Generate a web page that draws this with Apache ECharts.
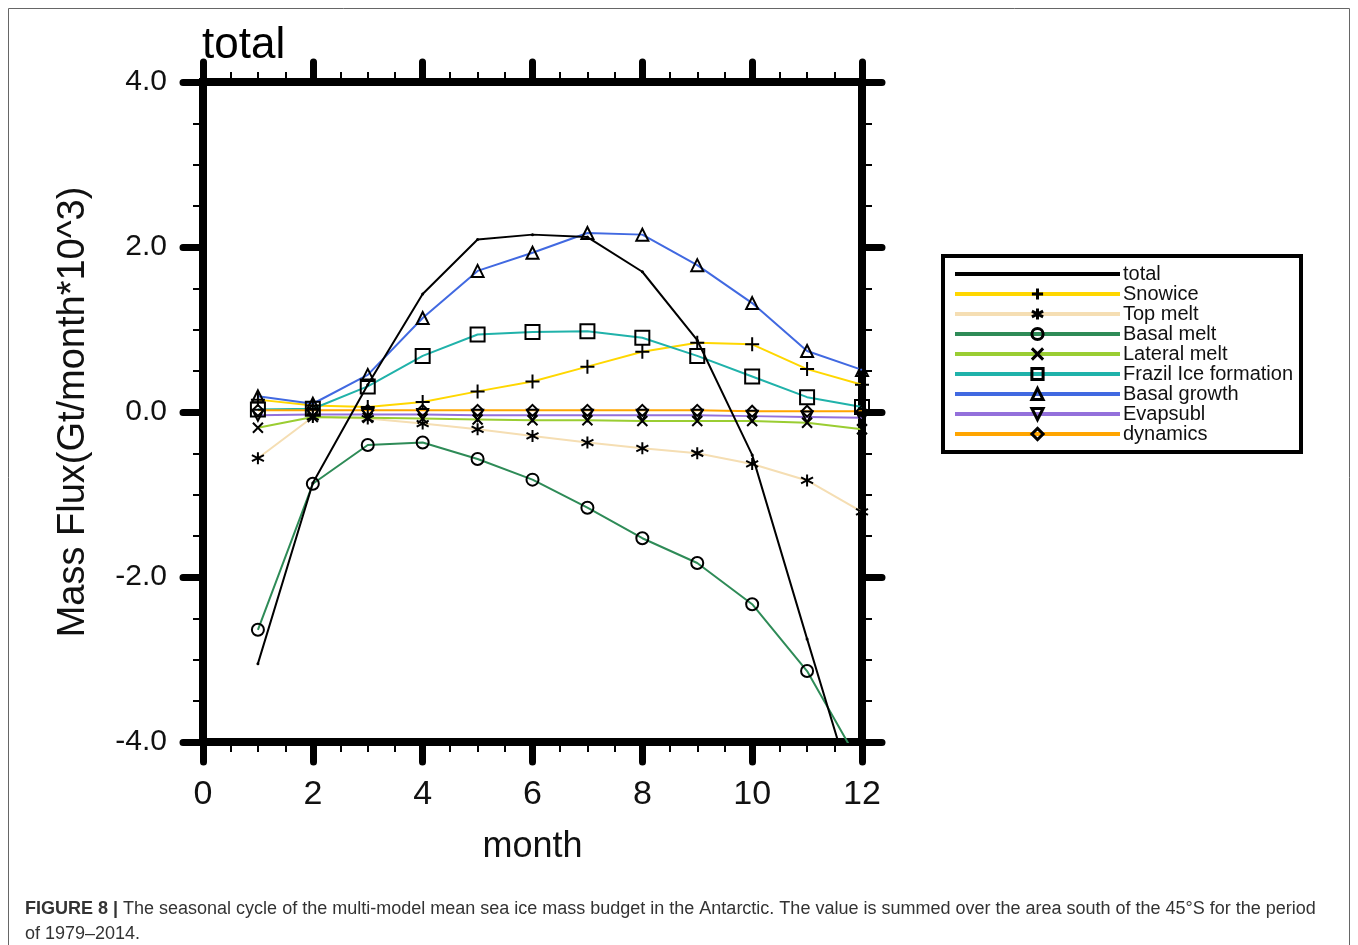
<!DOCTYPE html>
<html>
<head>
<meta charset="utf-8">
<script src="https://cdn.jsdelivr.net/npm/echarts@6/dist/echarts.min.js"></script>
<style>
  html, body { margin: 0; padding: 0; background: #fff; }
  #chart { width: 1358px; height: 945px; }
</style>
</head>
<body>
<div id="chart"></div>
<script>
// Monthly multi-model mean sea ice mass budget terms (Gt/month * 10^3)
const months = [1, 2, 3, 4, 5, 6, 7, 8, 9, 10, 11, 12];
const total       = [-3.05, -0.86, 0.33, 1.43, 2.09, 2.15, 2.12, 1.70, 0.87, -0.52, -2.75, -4.95];
const snowice     = [0.15, 0.08, 0.06, 0.12, 0.25, 0.37, 0.55, 0.73, 0.84, 0.82, 0.52, 0.33];
const topMelt     = [-0.56, -0.06, -0.08, -0.14, -0.21, -0.29, -0.37, -0.44, -0.50, -0.63, -0.83, -1.21];
const basalMelt   = [-2.64, -0.87, -0.40, -0.37, -0.57, -0.82, -1.16, -1.53, -1.83, -2.33, -3.14, -4.31];
const lateralMelt = [-0.19, -0.06, -0.07, -0.08, -0.09, -0.10, -0.10, -0.11, -0.11, -0.11, -0.13, -0.21];
const frazilIce   = [0.03, 0.04, 0.31, 0.68, 0.94, 0.97, 0.98, 0.90, 0.68, 0.43, 0.18, 0.06];
const basalGrowth = [0.19, 0.10, 0.45, 1.14, 1.71, 1.93, 2.17, 2.15, 1.78, 1.32, 0.74, 0.51];
const evapsubl    = [-0.04, -0.03, -0.03, -0.03, -0.04, -0.04, -0.04, -0.04, -0.04, -0.05, -0.06, -0.07];
const dynamics    = [0.02, 0.02, 0.02, 0.02, 0.02, 0.02, 0.02, 0.02, 0.02, 0.01, 0.01, 0.01];

const xTicks = [0, 2, 4, 6, 8, 10, 12];
const yTicks = [-4, -2, 0, 2, 4];

const FONT = '"Liberation Sans", Arial, Helvetica, sans-serif';

// marker shapes
const SYM_PLUS = 'path://M0,5L10,5M5,0L5,10';
const SYM_STAR = 'path://M5,0L5,10M0.67,2.5L9.33,7.5M0.67,7.5L9.33,2.5';
const SYM_X    = 'path://M0,0L10,10M0,10L10,0';
const SYM_DOWN = 'path://M0,0L10,0L5,9Z';

function zip(values) { return months.map((m, i) => [m, values[i]]); }

function seriesDef(name, values, color, symbol, size) {
  return {
    name: name,
    type: 'line',
    data: zip(values),
    symbol: symbol,
    symbolSize: size,
    clip: true,
    showAllSymbol: true,
    lineStyle: { color: color, width: 2 },
    itemStyle: { color: 'transparent', borderColor: '#000', borderWidth: 2 },
    emphasis: { disabled: true },
    z: 3
  };
}

const seriesList = [
  seriesDef('Snowice', snowice, '#FFD700', SYM_PLUS, 14),
  seriesDef('Top melt', topMelt, '#F5DEB3', SYM_STAR, 12),
  seriesDef('Basal melt', basalMelt, '#2E8B57', 'circle', 12),
  seriesDef('Lateral melt', lateralMelt, '#9ACD32', SYM_X, 10),
  seriesDef('Frazil Ice formation', frazilIce, '#20B2AA', 'rect', 14),
  seriesDef('Basal growth', basalGrowth, '#4169E1', 'triangle', 12),
  seriesDef('Evapsubl', evapsubl, '#9370DB', SYM_DOWN, 11),
  seriesDef('dynamics', dynamics, '#FFA500', 'diamond', 11),
  {
    name: 'total',
    type: 'line',
    data: zip(total),
    symbol: 'circle',
    symbolSize: 3,
    clip: true,
    lineStyle: { color: '#000', width: 2 },
    itemStyle: { color: '#000' },
    emphasis: { disabled: true },
    z: 4
  }
];

const frameLine = { show: true, onZero: false, lineStyle: { color: '#000', width: 8, cap: 'square' } };
const majorTick = { show: true, inside: false, length: 20, lineStyle: { color: '#000', width: 7, cap: 'round' } };
const minorTick = { show: true, splitNumber: 4, length: 10, lineStyle: { color: '#000', width: 2 } };

const xCommon = {
  type: 'value', min: 0, max: 12, interval: 2,
  axisLine: frameLine, axisTick: majorTick, minorTick: minorTick,
  splitLine: { show: false }, minorSplitLine: { show: false }
};
const yCommon = {
  type: 'value', min: -4, max: 4, interval: 2,
  axisLine: frameLine, axisTick: majorTick, minorTick: minorTick,
  splitLine: { show: false }, minorSplitLine: { show: false }
};

const legendData = ['total', 'Snowice', 'Top melt', 'Basal melt', 'Lateral melt',
  'Frazil Ice formation', 'Basal growth', 'Evapsubl', 'dynamics'].map(n =>
  n === 'total' ? { name: n, itemStyle: { opacity: 0 } } : { name: n });

const option = {
  animation: false,
  backgroundColor: '#fff',
  title: {
    text: 'total',
    left: 202, top: 24, padding: 0,
    textStyle: { fontFamily: FONT, fontSize: 44, fontWeight: 'normal', color: '#000' }
  },
  grid: { left: 203, right: 496, top: 82, bottom: 203, containLabel: false },
  xAxis: [
    Object.assign({}, xCommon, {
      position: 'bottom',
      name: 'month', nameLocation: 'middle', nameGap: 87,
      nameTextStyle: { fontFamily: FONT, fontSize: 36, color: '#111' },
      axisLabel: {
        show: true, margin: 36, fontFamily: FONT, fontSize: 34, color: '#111',
        customValues: xTicks,
        formatter: v => String(v)
      }
    }),
    Object.assign({}, xCommon, { position: 'top', axisLabel: { show: false } })
  ],
  yAxis: [
    Object.assign({}, yCommon, {
      position: 'left',
      name: 'Mass Flux(Gt/month*10^3)', nameLocation: 'middle', nameRotate: 90, nameGap: 110,
      nameTextStyle: { fontFamily: FONT, fontSize: 38, color: '#111' },
      axisLabel: {
        show: true, margin: 36, fontFamily: FONT, fontSize: 30, color: '#111',
        customValues: yTicks,
        formatter: v => v.toFixed(1)
      }
    }),
    Object.assign({}, yCommon, { position: 'right', axisLabel: { show: false } })
  ],
  legend: {
    orient: 'vertical',
    left: 953, top: 264, padding: 0,
    itemWidth: 165, itemHeight: 14, itemGap: 0,
    selectedMode: false,
    data: legendData,
    lineStyle: { width: 4 },
    itemStyle: { borderWidth: 3 },
    textStyle: { fontFamily: FONT, fontSize: 20, color: '#111', padding: [0, 0, 0, -2] }
  },
  graphic: [
    {
      type: 'rect', silent: true, z: -1,
      shape: { x: 8.5, y: 8.5, width: 1341, height: 1000 },
      style: { fill: 'none', stroke: '#666', lineWidth: 1 }
    },
    {
      type: 'rect', silent: true,
      shape: { x: 943, y: 256, width: 358, height: 196 },
      style: { fill: 'none', stroke: '#000', lineWidth: 4 }
    },
    {
      type: 'text', silent: true, left: 25, top: 897,
      style: {
        text: '{b|FIGURE 8 |} The seasonal cycle of the multi-model mean sea ice mass budget in the Antarctic. The value is summed over the area south of the 45°S for the period\nof 1979–2014.',
        fontFamily: FONT, fontSize: 18, lineHeight: 25, fill: '#333',
        rich: { b: { fontFamily: FONT, fontSize: 18, fontWeight: 'bold', fill: '#333', lineHeight: 25 } }
      }
    }
  ],
  series: seriesList
};

const chart = echarts.init(document.getElementById('chart'), null, { renderer: 'canvas' });
chart.setOption(option);
</script>
</body>
</html>
